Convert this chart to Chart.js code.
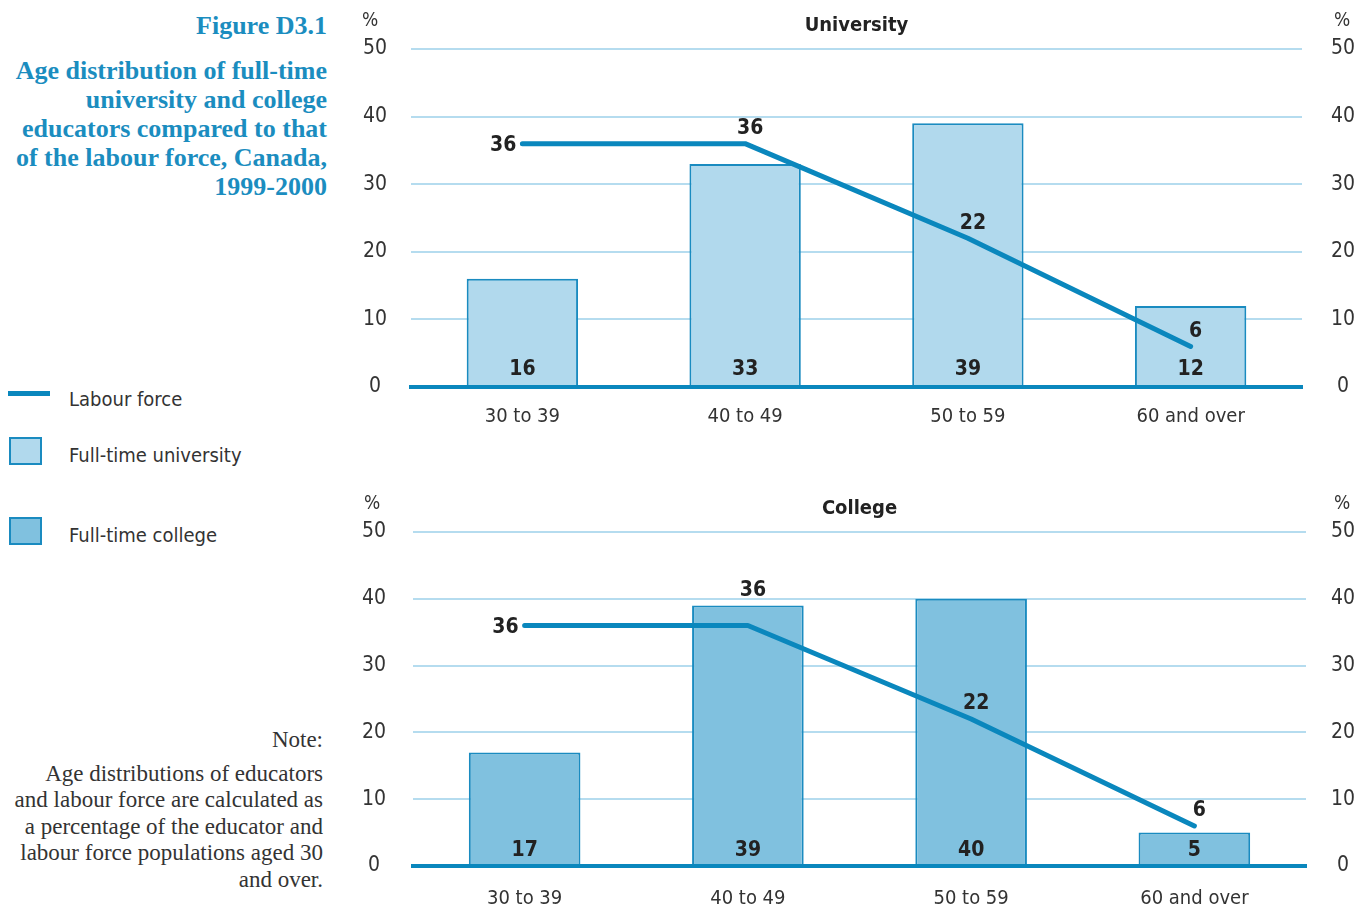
<!DOCTYPE html>
<html>
<head>
<meta charset="utf-8">
<title>Figure D3.1</title>
<script src="https://cdn.jsdelivr.net/npm/chart.js@4.4.1/dist/chart.umd.min.js"></script>
<style>
  html, body { margin: 0; padding: 0; background: #fff; }
  body { width: 1369px; height: 909px; position: relative; overflow: hidden; }
  .serif { font-family: "Liberation Serif", "DejaVu Serif", serif; }
  .cond { font-family: "Liberation Sans Narrow", "DejaVu Sans Condensed", "Roboto Condensed", "Liberation Sans", sans-serif; }
  #fig-num { position: absolute; right: 1042px; top: 11px; font-size: 26px; font-weight: bold; color: #1b8dbf; white-space: nowrap; }
  #fig-title { position: absolute; right: 1042px; top: 56px; width: 360px; text-align: right; font-size: 26px; line-height: 29px; font-weight: bold; color: #1b8dbf; white-space: nowrap; }
  .legend-text { position: absolute; left: 69px; font-size: 20px; color: #333; white-space: nowrap; }
  .swatch-line { position: absolute; left: 8px; width: 42px; height: 5px; background: #0a87bd; }
  .swatch-box { position: absolute; left: 9px; width: 29px; height: 24px; border: 2px solid #1a8bc0; }
  #note { position: absolute; right: 1046px; top: 727px; width: 340px; text-align: right; font-size: 23px; line-height: 26.5px; color: #333; white-space: nowrap; }
  #note .head { margin-bottom: 7px; }
  canvas { position: absolute; }
</style>
</head>
<body>
<div id="fig-num" class="serif">Figure D3.1</div>
<div id="fig-title" class="serif">Age distribution of full-time<br>university and college<br>educators compared to that<br>of the labour force, Canada,<br>1999-2000</div>

<div class="swatch-line" style="top:391px"></div>
<div class="legend-text cond" style="top:387px">Labour force</div>
<div class="swatch-box" style="top:437px;background:#b1d9ed"></div>
<div class="legend-text cond" style="top:443px">Full-time university</div>
<div class="swatch-box" style="top:517px;background:#80c1df"></div>
<div class="legend-text cond" style="top:523px">Full-time college</div>

<div id="note" class="serif"><div class="head">Note:</div>Age distributions of educators<br>and labour force are calculated as<br>a percentage of the educator and<br>labour force populations aged 30<br>and over.</div>

<canvas id="uniChart" width="1029" height="445" style="left:340px;top:0px"></canvas>
<canvas id="colChart" width="1029" height="449" style="left:340px;top:460px"></canvas>

<script>
// Age groups and shares (%) of each population aged 30 and over
const ageGroups = ['30 to 39', '40 to 49', '50 to 59', '60 and over'];
const labourForce = [36, 36, 22, 6];
const universityEducators = [16, 33, 39, 12];
const collegeEducators = [17, 39, 40, 5];
const percentTicks = [0, 10, 20, 30, 40, 50];

const CONDENSED = '"Liberation Sans Narrow", "DejaVu Sans Condensed", "Roboto Condensed", "Liberation Sans", sans-serif';
const LINE_BLUE = '#0a87bd';
const BAR_EDGE = '#1a8bc0';
const GRID_BLUE = '#b5dcef';

// Panel title and the "%" unit marks above both value axes
const panelHeader = {
  id: 'panelHeader',
  afterDraw(chart, args, opts) {
    const { ctx, chartArea } = chart;
    ctx.save();
    ctx.textBaseline = 'middle';
    ctx.textAlign = 'center';
    ctx.fillStyle = '#222';
    ctx.font = 'bold 20px ' + CONDENSED;
    ctx.fillText(opts.text, (chartArea.left + chartArea.right) / 2, chartArea.top - 23);
    ctx.font = '19px ' + CONDENSED;
    ctx.fillStyle = '#333';
    ctx.fillText('%', chartArea.left - 41, chartArea.top - 28);
    ctx.fillText('%', chartArea.right + opts.rightPctOffset, chartArea.top - 28);
    ctx.restore();
  }
};

// Value labels: educator shares inside the bar feet, labour force next to the line points
const valueLabels = {
  id: 'valueLabels',
  afterDatasetsDraw(chart, args, opts) {
    const { ctx } = chart;
    const barMeta = chart.getDatasetMeta(0);
    const lineMeta = chart.getDatasetMeta(1);
    const barVals = chart.data.datasets[0].data;
    const lineVals = chart.data.datasets[1].data;
    const base = chart.scales.y.getPixelForValue(0);
    ctx.save();
    ctx.font = 'bold 21px ' + CONDENSED;
    ctx.fillStyle = '#222';
    ctx.textBaseline = 'middle';
    barMeta.data.forEach((bar, i) => {
      ctx.textAlign = 'center';
      ctx.fillText(String(barVals[i]), bar.x, base - opts.barLift);
    });
    lineMeta.data.forEach((pt, i) => {
      if (i === 0) {
        ctx.textAlign = 'right';
        ctx.fillText(String(lineVals[i]), pt.x - 6, pt.y + 2);
        return;
      }
      let y = pt.y;
      const barTop = barMeta.data[i].y;
      if (barTop < pt.y && pt.y - barTop < 25) y = barTop;
      ctx.textAlign = 'center';
      ctx.fillText(String(lineVals[i]), pt.x + 5, y - 15);
    });
    ctx.restore();
  }
};

function buildPanel(canvasId, title, shares, barColor, geo) {
  return new Chart(document.getElementById(canvasId), {
    data: {
      labels: ageGroups,
      datasets: [
        {
          type: 'bar',
          label: title,
          data: shares,
          backgroundColor: barColor,
          borderColor: BAR_EDGE,
          borderWidth: 2,
          barPercentage: 0.5,
          categoryPercentage: 1,
          order: 2,
          yAxisID: 'y'
        },
        {
          type: 'line',
          label: 'Labour force',
          data: labourForce,
          borderColor: LINE_BLUE,
          borderWidth: 5,
          borderCapStyle: 'round',
          borderJoinStyle: 'round',
          pointRadius: 0,
          tension: 0,
          fill: false,
          order: 1,
          yAxisID: 'y'
        }
      ]
    },
    options: {
      responsive: false,
      animation: false,
      devicePixelRatio: 1,
      layout: { padding: { top: geo.top, left: 0, right: 0, bottom: 0 } },
      plugins: {
        legend: { display: false },
        tooltip: { enabled: false },
        title: { display: false },
        panelHeader: { text: title, rightPctOffset: geo.rightPct },
        valueLabels: { barLift: geo.barLift }
      },
      scales: {
        x: {
          type: 'category',
          grid: { display: false, drawTicks: false },
          border: { display: true, color: LINE_BLUE, width: 4, z: 1 },
          ticks: { padding: geo.xPad, color: '#333', font: { family: CONDENSED, size: 20 } },
          afterFit(s) { s.height = geo.xHeight; }
        },
        y: {
          position: 'left',
          min: 0, max: 50,
          afterBuildTicks(s) { s.ticks = percentTicks.map(v => ({ value: v })); },
          grid: {
            drawTicks: false,
            color: c => (c.tick && c.tick.value === 0 ? 'rgba(0,0,0,0)' : GRID_BLUE),
            lineWidth: 2
          },
          border: { display: false },
          ticks: { padding: geo.leftPad, crossAlign: 'center', color: '#333', font: { family: CONDENSED, size: 21 } },
          afterFit(s) { s.width = geo.leftW; }
        },
        y2: {
          position: 'right',
          min: 0, max: 50,
          afterBuildTicks(s) { s.ticks = percentTicks.map(v => ({ value: v })); },
          grid: { display: false, drawTicks: false },
          border: { display: false },
          ticks: { padding: geo.rightPad, crossAlign: 'center', color: '#333', font: { family: CONDENSED, size: 21 } },
          afterFit(s) { s.width = geo.rightW; }
        }
      }
    },
    plugins: [panelHeader, valueLabels]
  });
}

buildPanel('uniChart', 'University', universityEducators, '#b1d9ed',
  { top: 49, xHeight: 58, xPad: 18, leftW: 71, rightW: 67, leftPad: 24, rightPad: 29, rightPct: 40, barLift: 17 });
buildPanel('colChart', 'College', collegeEducators, '#80c1df',
  { top: 72, xHeight: 43, xPad: 21, leftW: 73, rightW: 63, leftPad: 27, rightPad: 25, rightPct: 36, barLift: 15 });
</script>
</body>
</html>
